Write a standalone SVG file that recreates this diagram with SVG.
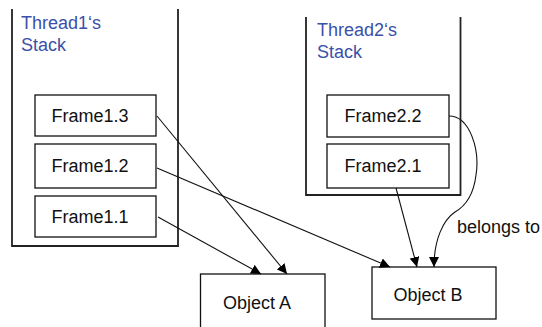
<svg xmlns="http://www.w3.org/2000/svg" width="542" height="327" viewBox="0 0 542 327">
  <defs>
    <marker id="arrow" viewBox="0 0 10 10" refX="10" refY="5" markerWidth="10" markerHeight="10" markerUnits="userSpaceOnUse" orient="auto">
      <path d="M0,0 L10,5 L0,10 z" fill="#000"/>
    </marker>
  </defs>
  <style>
    .stack { fill: none; stroke: #222; stroke-width: 1.8; }
    .box { fill: #fff; stroke: #111; stroke-width: 1.3; }
    .label { font-family: "Liberation Sans", Arial, sans-serif; font-size: 18px; fill: #111; }
    .title { font-family: "Liberation Sans", Arial, sans-serif; font-size: 18px; fill: #3b50a8; }
    .edge { fill: none; stroke: #111; stroke-width: 1.1; marker-end: url(#arrow); }
  </style>

  <!-- Thread 1 stack -->
  <g id="thread1-stack">
    <path class="stack" d="M12,9 V246 H178 V9"/>
    <text class="title" x="21" y="29">Thread1‘s</text>
    <text class="title" x="21" y="51">Stack</text>
  </g>
  <g id="frame1-3">
    <rect class="box" x="35" y="95" width="121" height="41"/>
    <text class="label" x="90" y="122" text-anchor="middle">Frame1.3</text>
  </g>
  <g id="frame1-2">
    <rect class="box" x="35" y="144" width="121" height="44"/>
    <text class="label" x="90" y="172" text-anchor="middle">Frame1.2</text>
  </g>
  <g id="frame1-1">
    <rect class="box" x="35" y="196" width="121" height="41"/>
    <text class="label" x="90" y="223" text-anchor="middle">Frame1.1</text>
  </g>

  <!-- Thread 2 stack -->
  <g id="thread2-stack">
    <path class="stack" d="M306,17 V195 H460.5 V17"/>
    <text class="title" x="317" y="36">Thread2‘s</text>
    <text class="title" x="317" y="58">Stack</text>
  </g>
  <g id="frame2-2">
    <rect class="box" x="327" y="95" width="122" height="42"/>
    <text class="label" x="383" y="122" text-anchor="middle">Frame2.2</text>
  </g>
  <g id="frame2-1">
    <rect class="box" x="327" y="144" width="122" height="44"/>
    <text class="label" x="383" y="172" text-anchor="middle">Frame2.1</text>
  </g>

  <!-- Heap objects -->
  <g id="object-a">
    <rect class="box" x="200.5" y="274" width="124.5" height="60"/>
    <text class="label" x="257" y="309" text-anchor="middle">Object A</text>
  </g>
  <g id="object-b">
    <rect class="box" x="372" y="267" width="124" height="52"/>
    <text class="label" x="428" y="301" text-anchor="middle">Object B</text>
  </g>

  <!-- References -->
  <g id="connectors">
    <path class="edge" d="M157,116 L287,274"/>
    <path class="edge" d="M157,168 L390,267"/>
    <path class="edge" d="M158,217 L261,274"/>
    <path class="edge" d="M396,188 L417,267"/>
    <path class="edge" d="M449,116 C470,116 480,150 476,175 C473,200 462,208 455,212 C443,220 434,240 434,267"/>
    <text class="label" x="457" y="233">belongs to</text>
  </g>
</svg>
